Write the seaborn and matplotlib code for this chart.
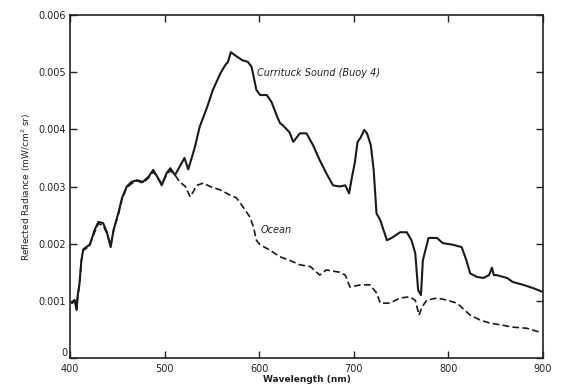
import matplotlib
matplotlib.use("Agg")
import matplotlib.pyplot as plt
import matplotlib.transforms as mtransforms
import seaborn as sns
import pandas as pd

# --- data ---
wl_sound = [402, 405, 407, 408, 410, 412, 414, 418, 421, 426, 430, 435, 439, 443, 446, 451, 455,
            460, 465, 471, 477, 483, 488, 493, 497, 502, 506, 511, 518, 521, 525, 529, 532,
            537, 545, 551, 559, 564, 567, 570, 574, 582, 588, 592, 597, 601, 608, 613, 619,
            622, 625, 632, 636, 643, 650, 657, 664, 671, 678, 685, 691, 695, 698, 701, 704,
            707, 711, 714, 718, 721, 724, 728, 735, 740, 749, 756, 761, 765, 768, 771, 773,
            779, 788, 794, 805, 814, 819, 823, 830, 837, 843, 846, 848, 851, 862, 868, 879,
            890, 899]
rad_sound = [0.00096, 0.00100, 0.00084, 0.00107, 0.00130, 0.00170, 0.00190, 0.00195, 0.00198,
             0.00224, 0.00238, 0.00236, 0.00220, 0.00194, 0.00224, 0.00253, 0.00280,
             0.00300, 0.00308, 0.00311, 0.00308, 0.00317, 0.00329, 0.00315, 0.00302, 0.00323,
             0.00332, 0.00320, 0.00341, 0.00350, 0.00330, 0.00352, 0.00369,
             0.00404, 0.00439, 0.00469, 0.00498, 0.00512, 0.00518, 0.00535, 0.00530, 0.00521,
             0.00518, 0.00509, 0.00469, 0.00460, 0.00460, 0.00448, 0.00422,
             0.00411, 0.00407, 0.00395, 0.00378, 0.00393, 0.00393, 0.00372, 0.00346, 0.00323,
             0.00302, 0.00300, 0.00302, 0.00288, 0.00316, 0.00341, 0.00378,
             0.00385, 0.00399, 0.00393, 0.00372, 0.00329, 0.00253, 0.00241, 0.00206, 0.00210,
             0.00220, 0.00220, 0.00206, 0.00183, 0.00119, 0.00110, 0.00171,
             0.00210, 0.00210, 0.00201, 0.00198, 0.00194, 0.00171, 0.00148, 0.00142, 0.00140,
             0.00145, 0.00158, 0.00145, 0.00145, 0.00140, 0.00133, 0.00128,
             0.00122, 0.00116]

wl_ocean = [402, 405, 407, 408, 410, 412, 414, 418, 421, 426, 430, 435, 439, 443, 446, 451, 455,
            460, 465, 471, 477, 483, 488, 493, 497, 502, 506, 511, 516, 522, 527, 530, 534,
            541, 548, 559, 569, 576, 583, 590, 594, 597, 601, 611, 622, 632, 643, 654, 664,
            671, 685, 691, 696, 707, 717, 724, 728, 738, 749, 759, 765, 769, 772, 777, 788,
            799, 809, 815, 823, 834, 844, 855, 868, 883, 897]
rad_ocean = [0.00098, 0.00102, 0.00086, 0.00105, 0.00128, 0.00170, 0.00188, 0.00193, 0.00200,
             0.00220, 0.00235, 0.00232, 0.00218, 0.00198, 0.00222, 0.00250, 0.00278,
             0.00298, 0.00305, 0.00310, 0.00306, 0.00315, 0.00326, 0.00314, 0.00305, 0.00320,
             0.00328, 0.00320, 0.00308, 0.00300, 0.00282, 0.00290, 0.00302,
             0.00306, 0.00300, 0.00294, 0.00285, 0.00280, 0.00264, 0.00247, 0.00229, 0.00206,
             0.00198, 0.00189, 0.00177, 0.00171, 0.00163, 0.00160, 0.00145,
             0.00154, 0.00150, 0.00145, 0.00124, 0.00128, 0.00128, 0.00114, 0.00096, 0.00096,
             0.00105, 0.00107, 0.00101, 0.00075, 0.00089, 0.00101, 0.00105,
             0.00101, 0.00096, 0.00087, 0.00075, 0.00066, 0.00061, 0.00058, 0.00054, 0.00052,
             0.00045]

x_ticks = [400, 500, 600, 700, 800, 900]
y_ticks = [0, 0.001, 0.002, 0.003, 0.004, 0.005, 0.006]
y_tick_labels = ["0", "0.001", "0.002", "0.003", "0.004", "0.005", "0.006"]

sns.set_style("ticks")
plt.rcParams["font.family"] = ["DejaVu Sans"]

fig = plt.figure(figsize=(5.64, 3.87), dpi=100)
ax = fig.add_axes([70 / 564, 1 - 358 / 387, (543 - 70) / 564, (358 - 15) / 387])

df_s = pd.DataFrame({"wl": wl_sound, "rad": rad_sound})
df_o = pd.DataFrame({"wl": wl_ocean, "rad": rad_ocean})
sns.lineplot(data=df_s, x="wl", y="rad", ax=ax, color="#1a1a1a", linewidth=1.5,
             estimator=None, sort=False)
sns.lineplot(data=df_o, x="wl", y="rad", ax=ax, color="#1a1a1a", linewidth=1.2,
             estimator=None, sort=False, linestyle=(0, (4, 2)))

ax.set_xlim(400, 900)
ax.set_ylim(0, 0.006)
ax.set_xticks(x_ticks)
ax.set_xticklabels([str(t) for t in x_ticks])
ax.set_yticks(y_ticks)
ax.set_yticklabels(y_tick_labels)
ax.tick_params(direction="in", length=5, width=1, top=True, right=True,
               labelsize=7, colors="#222222", pad=3)
for s in ax.spines.values():
    s.set_linewidth(1.2)
    s.set_color("#222222")

# lift the "0" y label so it sits above the "400" x label, as in the reference
zero_lbl = ax.get_yticklabels()[0]
zero_lbl.set_transform(zero_lbl.get_transform() +
                       mtransforms.ScaledTranslation(0.02, 0.06, fig.dpi_scale_trans))
ax.tick_params(axis="x", pad=4)

ax.set_xlabel("Wavelength (nm)", fontsize=6.5, fontweight="bold", color="#222222", labelpad=1)
ax.set_ylabel("Reflected Radiance (mW/cm$^2$ sr)", fontsize=6.5, color="#222222", labelpad=4)

ax.text(598, 0.00498, "Currituck Sound (Buoy 4)", fontsize=7, style="italic",
        va="center", ha="left", color="#222222")
ax.text(602, 0.00224, "Ocean", fontsize=7, style="italic", va="center", ha="left",
        color="#222222")

fig.savefig("out.png", dpi=100)
